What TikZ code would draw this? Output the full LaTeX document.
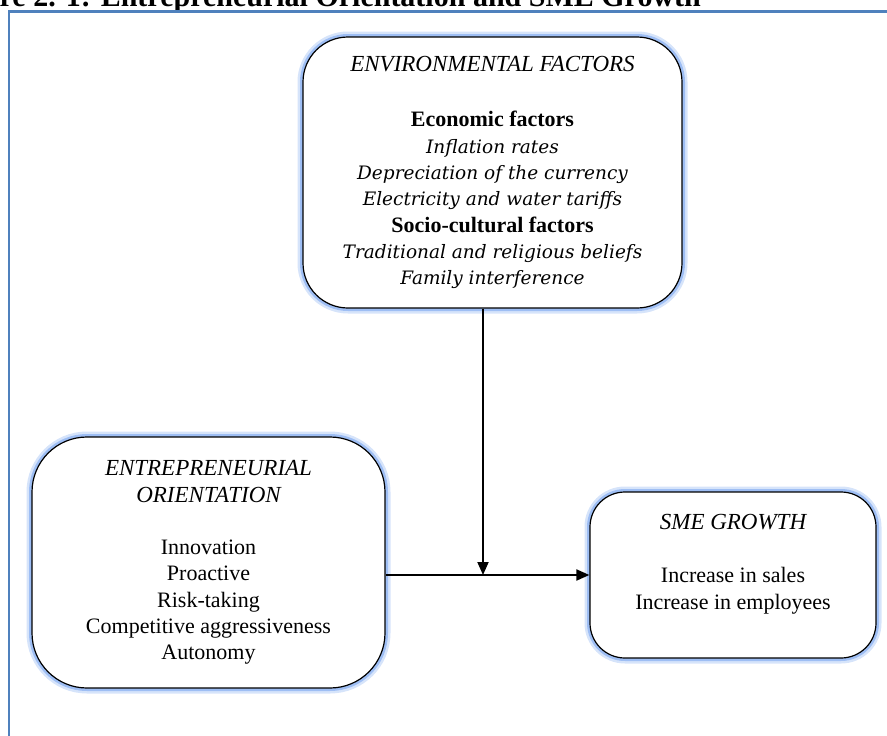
\documentclass[tikz,border=0pt]{standalone}
\usepackage{fontspec}
\setmainfont{Liberation Serif}
\newfontfamily\envfont{DejaVu Serif}
\usetikzlibrary{arrows.meta}
\definecolor{frameblue}{RGB}{79,129,189}
\definecolor{glowblue}{RGB}{120,165,240}
\newcommand{\boxhead}[1]{{\fontsize{23}{26.3}\selectfont\itshape #1}}
\newcommand{\envit}[1]{{\envfont\itshape\fontsize{18.5}{26.3}\selectfont #1}}
\begin{document}
\begin{tikzpicture}[x=1pt,y=-1pt,
    factorbox/.style={draw, line width=1.2pt, fill=white, align=center,
      preaction={draw=glowblue, line width=11pt, opacity=.3},
      preaction={draw=glowblue, line width=6pt, opacity=.6},
      font=\fontsize{22}{26.3}\selectfont},
    link/.style={line width=1.9pt, -{Triangle[length=13pt,width=11pt]}}]
\useasboundingbox (0,0) rectangle (887,736);
\clip (0,0) rectangle (887,736);
%title and frame
\node[anchor=base east, inner sep=0pt, font=\bfseries\fontsize{30}{36}\selectfont] (title) at (701,6.5) {Figure 2. 1: Entrepreneurial Orientation and SME Growth};
\draw[frameblue, line width=2.2pt] (9,745) -- (9,11.5) -- (895,11.5);
%boxes
\node[factorbox, minimum width=379pt, minimum height=271pt, rounded corners=45pt] (env) at (492.5,172.5)
  {\boxhead{ENVIRONMENTAL FACTORS}\\[29pt]
   \textbf{Economic factors}\\
   \envit{Inflation rates}\\
   \envit{Depreciation of the currency}\\
   \envit{Electricity and water tariffs}\\
   \textbf{Socio-cultural factors}\\
   \envit{Traditional and religious beliefs}\\
   \envit{Family interference}};
\node[factorbox, minimum width=353pt, minimum height=251pt, rounded corners=55pt] (eo) at (208.5,562.5)
  {\boxhead{ENTREPRENEURIAL}\\ \boxhead{ORIENTATION}\\[26pt]
   Innovation\\ Proactive\\ Risk-taking\\ Competitive aggressiveness\\ Autonomy};
\node[factorbox, minimum width=286pt, minimum height=166pt, rounded corners=35pt] (sme) at (733,575)
  {\boxhead{SME GROWTH}\\[27pt]
   Increase in sales\\ Increase in employees\\ \mbox{}};
%arrows
\coordinate (meet) at (483,575);
\draw[link] (env.south -| meet) -- (meet);
\draw[link] (eo.east |- sme.west) -- (sme.west);
\end{tikzpicture}
\end{document}
